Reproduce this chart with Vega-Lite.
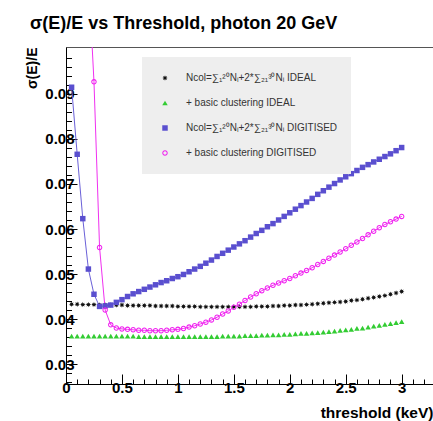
{
"$schema":"https://vega.github.io/schema/vega-lite/v6.json",
"width":367,"height":337,
"autosize":{"type":"none"},
"padding":{"left":66,"top":47,"right":0,"bottom":37},
"background":"white",
"title":{"text":"σ(E)/E vs Threshold, photon 20 GeV","anchor":"start","frame":"group","dx":-36,"dy":0,"offset":0,"baseline":"alphabetic","fontSize":18,"fontWeight":"bold","font":"Liberation Sans","color":"#000"},
"config":{"view":{"stroke":"#555","strokeWidth":1},"font":"Liberation Sans"},
"data":{"values":[
{"s":"k","t":0.05,"v":0.0433},{"s":"k","t":0.1,"v":0.0433},{"s":"k","t":0.15,"v":0.0432},{"s":"k","t":0.2,"v":0.0432},{"s":"k","t":0.25,"v":0.0432},{"s":"k","t":0.3,"v":0.0431},{"s":"k","t":0.35,"v":0.0431},{"s":"k","t":0.4,"v":0.0431},{"s":"k","t":0.45,"v":0.0431},{"s":"k","t":0.5,"v":0.0431},{"s":"k","t":0.55,"v":0.043},{"s":"k","t":0.6,"v":0.043},{"s":"k","t":0.65,"v":0.043},{"s":"k","t":0.7,"v":0.043},{"s":"k","t":0.75,"v":0.043},{"s":"k","t":0.8,"v":0.0429},{"s":"k","t":0.85,"v":0.0429},{"s":"k","t":0.9,"v":0.0429},{"s":"k","t":0.95,"v":0.0429},{"s":"k","t":1.0,"v":0.0428},{"s":"k","t":1.05,"v":0.0428},{"s":"k","t":1.1,"v":0.0428},{"s":"k","t":1.15,"v":0.0428},{"s":"k","t":1.2,"v":0.0427},{"s":"k","t":1.25,"v":0.0427},{"s":"k","t":1.3,"v":0.0427},{"s":"k","t":1.35,"v":0.0427},{"s":"k","t":1.4,"v":0.0427},{"s":"k","t":1.45,"v":0.0427},{"s":"k","t":1.5,"v":0.0427},{"s":"k","t":1.55,"v":0.0427},{"s":"k","t":1.6,"v":0.0427},{"s":"k","t":1.65,"v":0.0427},{"s":"k","t":1.7,"v":0.0428},{"s":"k","t":1.75,"v":0.0428},{"s":"k","t":1.8,"v":0.0428},{"s":"k","t":1.85,"v":0.0429},{"s":"k","t":1.9,"v":0.0429},{"s":"k","t":1.95,"v":0.043},{"s":"k","t":2.0,"v":0.043},{"s":"k","t":2.05,"v":0.0431},{"s":"k","t":2.1,"v":0.0431},{"s":"k","t":2.15,"v":0.0432},{"s":"k","t":2.2,"v":0.0433},{"s":"k","t":2.25,"v":0.0434},{"s":"k","t":2.3,"v":0.0435},{"s":"k","t":2.35,"v":0.0436},{"s":"k","t":2.4,"v":0.0437},{"s":"k","t":2.45,"v":0.0438},{"s":"k","t":2.5,"v":0.0439},{"s":"k","t":2.55,"v":0.0441},{"s":"k","t":2.6,"v":0.0442},{"s":"k","t":2.65,"v":0.0444},{"s":"k","t":2.7,"v":0.0446},{"s":"k","t":2.75,"v":0.0448},{"s":"k","t":2.8,"v":0.045},{"s":"k","t":2.85,"v":0.0452},{"s":"k","t":2.9,"v":0.0455},{"s":"k","t":2.95,"v":0.0458},{"s":"k","t":3.0,"v":0.0461},
{"s":"g","t":0.05,"v":0.0362},{"s":"g","t":0.1,"v":0.0362},{"s":"g","t":0.15,"v":0.0362},{"s":"g","t":0.2,"v":0.0362},{"s":"g","t":0.25,"v":0.0362},{"s":"g","t":0.3,"v":0.0362},{"s":"g","t":0.35,"v":0.0362},{"s":"g","t":0.4,"v":0.0362},{"s":"g","t":0.45,"v":0.0362},{"s":"g","t":0.5,"v":0.0362},{"s":"g","t":0.55,"v":0.0362},{"s":"g","t":0.6,"v":0.0362},{"s":"g","t":0.65,"v":0.0361},{"s":"g","t":0.7,"v":0.0361},{"s":"g","t":0.75,"v":0.0361},{"s":"g","t":0.8,"v":0.0361},{"s":"g","t":0.85,"v":0.0361},{"s":"g","t":0.9,"v":0.0361},{"s":"g","t":0.95,"v":0.0361},{"s":"g","t":1.0,"v":0.0361},{"s":"g","t":1.05,"v":0.0361},{"s":"g","t":1.1,"v":0.0361},{"s":"g","t":1.15,"v":0.0361},{"s":"g","t":1.2,"v":0.0361},{"s":"g","t":1.25,"v":0.0361},{"s":"g","t":1.3,"v":0.0361},{"s":"g","t":1.35,"v":0.0361},{"s":"g","t":1.4,"v":0.0362},{"s":"g","t":1.45,"v":0.0362},{"s":"g","t":1.5,"v":0.0362},{"s":"g","t":1.55,"v":0.0362},{"s":"g","t":1.6,"v":0.0363},{"s":"g","t":1.65,"v":0.0363},{"s":"g","t":1.7,"v":0.0363},{"s":"g","t":1.75,"v":0.0364},{"s":"g","t":1.8,"v":0.0364},{"s":"g","t":1.85,"v":0.0365},{"s":"g","t":1.9,"v":0.0365},{"s":"g","t":1.95,"v":0.0366},{"s":"g","t":2.0,"v":0.0366},{"s":"g","t":2.05,"v":0.0367},{"s":"g","t":2.1,"v":0.0368},{"s":"g","t":2.15,"v":0.0368},{"s":"g","t":2.2,"v":0.0369},{"s":"g","t":2.25,"v":0.037},{"s":"g","t":2.3,"v":0.0371},{"s":"g","t":2.35,"v":0.0372},{"s":"g","t":2.4,"v":0.0373},{"s":"g","t":2.45,"v":0.0375},{"s":"g","t":2.5,"v":0.0376},{"s":"g","t":2.55,"v":0.0377},{"s":"g","t":2.6,"v":0.0379},{"s":"g","t":2.65,"v":0.038},{"s":"g","t":2.7,"v":0.0382},{"s":"g","t":2.75,"v":0.0384},{"s":"g","t":2.8,"v":0.0386},{"s":"g","t":2.85,"v":0.0388},{"s":"g","t":2.9,"v":0.039},{"s":"g","t":2.95,"v":0.0392},{"s":"g","t":3.0,"v":0.0394},
{"s":"b","t":0.05,"v":0.0915},{"s":"b","t":0.1,"v":0.0766},{"s":"b","t":0.15,"v":0.0623},{"s":"b","t":0.2,"v":0.0511},{"s":"b","t":0.25,"v":0.0455},{"s":"b","t":0.3,"v":0.0428},{"s":"b","t":0.35,"v":0.0429},{"s":"b","t":0.4,"v":0.0431},{"s":"b","t":0.45,"v":0.0437},{"s":"b","t":0.5,"v":0.0443},{"s":"b","t":0.55,"v":0.045},{"s":"b","t":0.6,"v":0.0456},{"s":"b","t":0.65,"v":0.0461},{"s":"b","t":0.7,"v":0.0466},{"s":"b","t":0.75,"v":0.0471},{"s":"b","t":0.8,"v":0.0476},{"s":"b","t":0.85,"v":0.0481},{"s":"b","t":0.9,"v":0.0485},{"s":"b","t":0.95,"v":0.049},{"s":"b","t":1.0,"v":0.0494},{"s":"b","t":1.05,"v":0.0499},{"s":"b","t":1.1,"v":0.0505},{"s":"b","t":1.15,"v":0.0511},{"s":"b","t":1.2,"v":0.0517},{"s":"b","t":1.25,"v":0.0524},{"s":"b","t":1.3,"v":0.0531},{"s":"b","t":1.35,"v":0.0539},{"s":"b","t":1.4,"v":0.0546},{"s":"b","t":1.45,"v":0.0553},{"s":"b","t":1.5,"v":0.056},{"s":"b","t":1.55,"v":0.0567},{"s":"b","t":1.6,"v":0.0574},{"s":"b","t":1.65,"v":0.0582},{"s":"b","t":1.7,"v":0.059},{"s":"b","t":1.75,"v":0.0597},{"s":"b","t":1.8,"v":0.0605},{"s":"b","t":1.85,"v":0.0612},{"s":"b","t":1.9,"v":0.062},{"s":"b","t":1.95,"v":0.0628},{"s":"b","t":2.0,"v":0.0636},{"s":"b","t":2.05,"v":0.0644},{"s":"b","t":2.1,"v":0.0652},{"s":"b","t":2.15,"v":0.066},{"s":"b","t":2.2,"v":0.0668},{"s":"b","t":2.25,"v":0.0677},{"s":"b","t":2.3,"v":0.0685},{"s":"b","t":2.35,"v":0.0693},{"s":"b","t":2.4,"v":0.0701},{"s":"b","t":2.45,"v":0.0709},{"s":"b","t":2.5,"v":0.0716},{"s":"b","t":2.55,"v":0.0723},{"s":"b","t":2.6,"v":0.073},{"s":"b","t":2.65,"v":0.0737},{"s":"b","t":2.7,"v":0.0743},{"s":"b","t":2.75,"v":0.0749},{"s":"b","t":2.8,"v":0.0755},{"s":"b","t":2.85,"v":0.0761},{"s":"b","t":2.9,"v":0.0767},{"s":"b","t":2.95,"v":0.0774},{"s":"b","t":3.0,"v":0.0781},
{"s":"m","t":0.2,"v":0.117},{"s":"m","t":0.25,"v":0.0927},{"s":"m","t":0.3,"v":0.0559},{"s":"m","t":0.35,"v":0.042},{"s":"m","t":0.4,"v":0.0387},{"s":"m","t":0.45,"v":0.038},{"s":"m","t":0.5,"v":0.0378},{"s":"m","t":0.55,"v":0.0377},{"s":"m","t":0.6,"v":0.0376},{"s":"m","t":0.65,"v":0.0375},{"s":"m","t":0.7,"v":0.0375},{"s":"m","t":0.75,"v":0.0374},{"s":"m","t":0.8,"v":0.0374},{"s":"m","t":0.85,"v":0.0374},{"s":"m","t":0.9,"v":0.0375},{"s":"m","t":0.95,"v":0.0376},{"s":"m","t":1.0,"v":0.0377},{"s":"m","t":1.05,"v":0.0379},{"s":"m","t":1.1,"v":0.0382},{"s":"m","t":1.15,"v":0.0385},{"s":"m","t":1.2,"v":0.0389},{"s":"m","t":1.25,"v":0.0393},{"s":"m","t":1.3,"v":0.0398},{"s":"m","t":1.35,"v":0.0404},{"s":"m","t":1.4,"v":0.0411},{"s":"m","t":1.45,"v":0.0418},{"s":"m","t":1.5,"v":0.0426},{"s":"m","t":1.55,"v":0.0433},{"s":"m","t":1.6,"v":0.0441},{"s":"m","t":1.65,"v":0.0449},{"s":"m","t":1.7,"v":0.0456},{"s":"m","t":1.75,"v":0.0463},{"s":"m","t":1.8,"v":0.0469},{"s":"m","t":1.85,"v":0.0475},{"s":"m","t":1.9,"v":0.048},{"s":"m","t":1.95,"v":0.0485},{"s":"m","t":2.0,"v":0.049},{"s":"m","t":2.05,"v":0.0496},{"s":"m","t":2.1,"v":0.0502},{"s":"m","t":2.15,"v":0.0508},{"s":"m","t":2.2,"v":0.0514},{"s":"m","t":2.25,"v":0.0521},{"s":"m","t":2.3,"v":0.0528},{"s":"m","t":2.35,"v":0.0535},{"s":"m","t":2.4,"v":0.0542},{"s":"m","t":2.45,"v":0.0549},{"s":"m","t":2.5,"v":0.0556},{"s":"m","t":2.55,"v":0.0564},{"s":"m","t":2.6,"v":0.0571},{"s":"m","t":2.65,"v":0.0579},{"s":"m","t":2.7,"v":0.0587},{"s":"m","t":2.75,"v":0.0595},{"s":"m","t":2.8,"v":0.0603},{"s":"m","t":2.85,"v":0.061},{"s":"m","t":2.9,"v":0.0616},{"s":"m","t":2.95,"v":0.0622},{"s":"m","t":3.0,"v":0.0628}
]},
"encoding":{
"x":{"field":"t","type":"quantitative","scale":{"domain":[0,3.28],"nice":false,"zero":false},
"axis":{"values":[0,0.1,0.2,0.3,0.4,0.5,0.6,0.7,0.8,0.9,1,1.1,1.2,1.3,1.4,1.5,1.6,1.7,1.8,1.9,2,2.1,2.2,2.3,2.4,2.5,2.6,2.7,2.8,2.9,3,3.1,3.2],
"labelExpr":"abs(datum.value*2-round(datum.value*2))<0.001 ? format(datum.value,'~g') : ''",
"tickSize":{"condition":{"test":"abs(datum.value*2-round(datum.value*2))<0.001","value":-10},"value":-5},
"grid":false,"domainColor":"#000","tickColor":"#000","labelColor":"#000","labelFont":"Liberation Sans","labelFontWeight":"bold","labelFontSize":15,"labelPadding":6,"labelFlush":false,"labelOverlap":false,
"title":"threshold (keV)","titleFont":"Liberation Sans","titleFontSize":15.5,"titleFontWeight":"bold","titleColor":"#000","titleAnchor":"end","titleAlign":"right","titleX":367,"titleY":33,"titleBaseline":"alphabetic"}},
"y":{"field":"v","type":"quantitative","scale":{"domain":[0.02556,0.10044],"nice":false,"zero":false},
"axis":{"values":[0.026,0.028,0.03,0.032,0.034,0.036,0.038,0.04,0.042,0.044,0.046,0.048,0.05,0.052,0.054,0.056,0.058,0.06,0.062,0.064,0.066,0.068,0.07,0.072,0.074,0.076,0.078,0.08,0.082,0.084,0.086,0.088,0.09,0.092,0.094,0.096,0.098],
"labelExpr":"abs(datum.value*100-round(datum.value*100))<0.001 ? format(datum.value,'.2f') : ''",
"tickSize":{"condition":{"test":"abs(datum.value*100-round(datum.value*100))<0.001","value":-11},"value":-5.5},
"grid":false,"domainColor":"#000","tickColor":"#000","labelColor":"#000","labelFont":"Liberation Sans","labelFontWeight":"bold","labelFontSize":15,"labelPadding":3,"labelOverlap":false,"labelFlush":false,
"title":"σ(E)/E","titleFont":"Liberation Sans","titleFontSize":14,"titleFontWeight":"bold","titleColor":"#000","titleAnchor":"end","titleAngle":270,"titleAlign":"right","titleBaseline":"middle","titleX":-34,"titleY":0}}
},
"layer":[
{"transform":[{"filter":"datum.s=='b'"}],"mark":{"type":"line","color":"#6a60d8","strokeWidth":1,"clip":true}},
{"transform":[{"filter":"datum.s=='m'"}],"mark":{"type":"line","color":"#f030f0","strokeWidth":1,"clip":true}},
{"mark":{"type":"point","filled":true,"opacity":1,"size":30,"clip":true},
"encoding":{
"color":{"field":"s","type":"nominal","scale":{"domain":["k","g","b","m"],"range":["#111111","#33cc33","#5a4fcf","#f020f0"]},
"legend":{"orient":"none","legendX":76,"legendY":10,"title":null,"fillColor":"#eeeeee","padding":13,"symbolOffset":5,"labelOffset":16,"labelFontSize":10,"labelFont":"Liberation Sans","labelColor":"#333","rowPadding":9,"clipHeight":16,"symbolSize":30,"symbolStrokeWidth":0,"labelLimit":300,
"labelExpr":"datum.label=='k' ? 'Ncol=∑₁²⁰Nᵢ+2*∑₂₁³⁰Nᵢ IDEAL' : datum.label=='g' ? '+ basic clustering IDEAL' : datum.label=='b' ? 'Ncol=∑₁²⁰Nᵢ+2*∑₂₁³⁰Nᵢ DIGITISED' : '+ basic clustering DIGITISED'"}},
"shape":{"field":"s","type":"nominal","scale":{"domain":["k","g","b","m"],"range":["M1,0L0.45,0.19L0.707,0.707L0.19,0.45L0,1L-0.19,0.45L-0.707,0.707L-0.45,0.19L-1,0L-0.45,-0.19L-0.707,-0.707L-0.19,-0.45L0,-1L0.19,-0.45L0.707,-0.707L0.45,-0.19Z","triangle-up","square","M-1,0A1,1,0,1,0,1,0A1,1,0,1,0,-1,0Z M-0.62,0A0.62,0.62,0,1,1,0.62,0A0.62,0.62,0,1,1,-0.62,0Z"]},
"legend":{"orient":"none","legendX":76,"legendY":10,"title":null,"fillColor":"#eeeeee","padding":13,"symbolOffset":5,"labelOffset":16,"labelFontSize":10,"labelFont":"Liberation Sans","labelColor":"#333","rowPadding":9,"clipHeight":16,"symbolSize":30,"symbolStrokeWidth":0,"labelLimit":300,
"labelExpr":"datum.label=='k' ? 'Ncol=∑₁²⁰Nᵢ+2*∑₂₁³⁰Nᵢ IDEAL' : datum.label=='g' ? '+ basic clustering IDEAL' : datum.label=='b' ? 'Ncol=∑₁²⁰Nᵢ+2*∑₂₁³⁰Nᵢ DIGITISED' : '+ basic clustering DIGITISED'"}}
}}
]
}
